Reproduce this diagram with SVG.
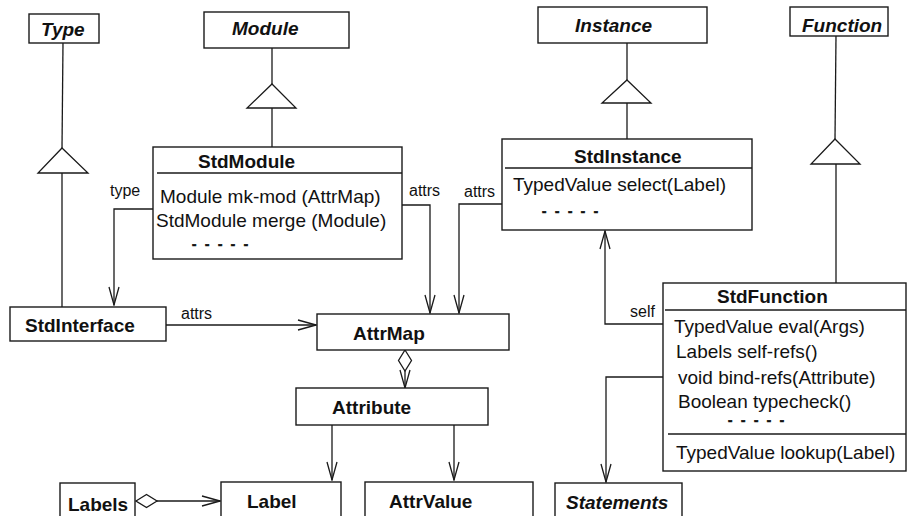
<svg xmlns="http://www.w3.org/2000/svg" width="907" height="516" viewBox="0 0 907 516">
<style>
.box{fill:#fff;stroke:#1a1a1a;stroke-width:1.4}
.ln{fill:none;stroke:#1a1a1a;stroke-width:1.3}
.tri{fill:#fff;stroke:#1a1a1a;stroke-width:1.3}
.t{font-family:"Liberation Sans",Arial,sans-serif;font-weight:bold;font-size:19px;fill:#111}
.ti{font-family:"Liberation Sans",Arial,sans-serif;font-weight:bold;font-style:italic;font-size:19px;fill:#111}
.m{font-family:"Liberation Sans",Arial,sans-serif;font-size:19px;fill:#111}
.d{font-family:"Liberation Sans",Arial,sans-serif;font-weight:bold;font-size:13px;fill:#111;stroke:#111;stroke-width:0.7;letter-spacing:2.5px}
.lb{font-family:"Liberation Sans",Arial,sans-serif;font-size:16px;fill:#111}
</style>
<defs>
<marker id="open" viewBox="0 0 20 12" refX="19" refY="6" markerWidth="20" markerHeight="12" markerUnits="userSpaceOnUse" orient="auto">
<path d="M1,1 L19,6 L1,11" fill="none" stroke="#1a1a1a" stroke-width="1.3"/>
</marker>
<marker id="dia" viewBox="0 0 24 16" refX="1" refY="8" markerWidth="24" markerHeight="16" markerUnits="userSpaceOnUse" orient="auto">
<path d="M1,8 L11.5,1.5 L22,8 L11.5,14.5 Z" fill="#fff" stroke="#1a1a1a" stroke-width="1.3"/>
</marker>
</defs>

<g id="connectors">
<line class="ln" x1="63" y1="43" x2="62" y2="148"/>
<line class="ln" x1="62" y1="173" x2="62" y2="307"/>
<polygon class="tri" points="62,148 88,173 38,173"/>
<line class="ln" x1="272" y1="48" x2="272" y2="84"/>
<line class="ln" x1="272" y1="108" x2="272" y2="147"/>
<polygon class="tri" points="272,84 296,108 247,108"/>
<line class="ln" x1="627" y1="43" x2="627" y2="80"/>
<line class="ln" x1="627" y1="103" x2="627" y2="139"/>
<polygon class="tri" points="627,80 651,103 602,103"/>
<line class="ln" x1="836" y1="36" x2="835" y2="139"/>
<line class="ln" x1="836" y1="164" x2="836" y2="283"/>
<polygon class="tri" points="835,139 860,164 811,164"/>
<polyline class="ln" points="153,209 114,209 114,305" marker-end="url(#open)"/>
<polyline class="ln" points="402,205 430,205 430,313" marker-end="url(#open)"/>
<polyline class="ln" points="502,204 459,204 459,313" marker-end="url(#open)"/>
<line class="ln" x1="166" y1="325" x2="316" y2="325" marker-end="url(#open)"/>
<line class="ln" x1="405" y1="350" x2="405" y2="388" marker-start="url(#dia)" marker-end="url(#open)"/>
<line class="ln" x1="332" y1="425" x2="332" y2="480" marker-end="url(#open)"/>
<line class="ln" x1="454" y1="425" x2="454" y2="480" marker-end="url(#open)"/>
<line class="ln" x1="136" y1="501" x2="220" y2="501" marker-start="url(#dia)" marker-end="url(#open)"/>
<polyline class="ln" points="663,324 605,324 605,231" marker-end="url(#open)"/>
<polyline class="ln" points="663,377 606,377 606,482" marker-end="url(#open)"/>
<text class="lb" x="110" y="196">type</text>
<text class="lb" x="409" y="196">attrs</text>
<text class="lb" x="464" y="197">attrs</text>
<text class="lb" x="181" y="319">attrs</text>
<text class="lb" x="630" y="317">self</text>
</g>

<g id="Type">
<rect class="box" x="29" y="14" width="70" height="29"/>
<text class="ti" x="41" y="36">Type</text>
</g>
<g id="Module">
<rect class="box" x="204" y="12" width="145" height="36"/>
<text class="ti" x="232" y="35">Module</text>
</g>
<g id="Instance">
<rect class="box" x="538" y="7" width="169" height="36"/>
<text class="ti" x="575" y="32">Instance</text>
</g>
<g id="Function">
<rect class="box" x="790" y="7" width="98" height="29"/>
<text class="ti" x="802" y="32">Function</text>
</g>

<g id="StdModule">
<rect class="box" x="153" y="147" width="249" height="112"/>
<line class="ln" x1="157" y1="173" x2="402" y2="173"/>
<text class="t" x="198" y="168">StdModule</text>
<text class="m" x="160" y="203">Module mk-mod (AttrMap)</text>
<text class="m" x="156" y="227">StdModule merge (Module)</text>
<text class="d" x="192" y="249">- - - - -</text>
</g>

<g id="StdInstance">
<rect class="box" x="502" y="139" width="250" height="91"/>
<line class="ln" x1="505" y1="168" x2="752" y2="168"/>
<text class="t" x="574" y="163">StdInstance</text>
<text class="m" x="513" y="191">TypedValue select(Label)</text>
<text class="d" x="542" y="216">- - - - -</text>
</g>

<g id="StdInterface">
<rect class="box" x="10" y="307" width="156" height="34"/>
<text class="t" x="25" y="332">StdInterface</text>
</g>

<g id="AttrMap">
<rect class="box" x="317" y="314" width="192" height="36"/>
<text class="t" x="353" y="340">AttrMap</text>
</g>

<g id="Attribute">
<rect class="box" x="296" y="388" width="192" height="37"/>
<text class="t" x="332" y="414">Attribute</text>
</g>

<g id="StdFunction">
<rect class="box" x="663" y="283" width="243" height="188"/>
<line class="ln" x1="665" y1="310" x2="906" y2="310"/>
<text class="t" x="717" y="303">StdFunction</text>
<text class="m" x="674" y="333">TypedValue eval(Args)</text>
<text class="m" x="676" y="358">Labels self-refs()</text>
<text class="m" x="678" y="384">void bind-refs(Attribute)</text>
<text class="m" x="678" y="408">Boolean typecheck()</text>
<text class="d" x="728" y="425">- - - - -</text>
<line class="ln" x1="668" y1="434" x2="906" y2="434"/>
<text class="m" x="676" y="459">TypedValue lookup(Label)</text>
</g>

<g id="Labels">
<rect class="box" x="60" y="483" width="75" height="40"/>
<text class="t" x="68" y="511">Labels</text>
</g>
<g id="Label">
<rect class="box" x="221" y="482" width="120" height="40"/>
<text class="t" x="247" y="508">Label</text>
</g>
<g id="AttrValue">
<rect class="box" x="365" y="482" width="168" height="40"/>
<text class="t" x="389" y="508">AttrValue</text>
</g>
<g id="Statements">
<rect class="box" x="555" y="483" width="127" height="40"/>
<text class="ti" x="566" y="509">Statements</text>
</g>
</svg>
